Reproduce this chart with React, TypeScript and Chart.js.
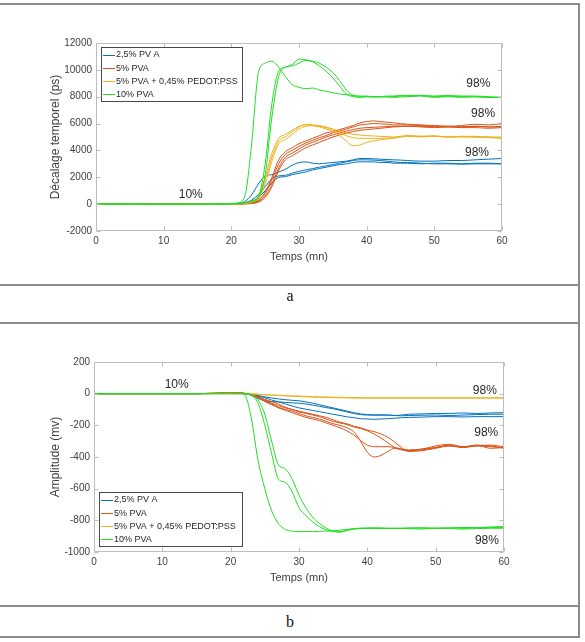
import React, { useEffect, useRef } from "react";
import { Chart, registerables } from "chart.js";

Chart.register(...registerables);

// Sampling instants (minutes) shared by every curve
const TIME = [
  0, 5, 10, 15, 20, 21, 22, 23, 24, 25, 26, 27, 28, 29, 30, 31, 32, 33, 34, 35, 36, 37, 38, 39, 40,
  41, 42, 43, 44, 45, 46, 48, 50, 52, 54, 56, 58, 60,
];

const SERIES_NAMES = ["2,5% PV A", "5% PVA", "5% PVA + 0,45% PEDOT:PSS", "10% PVA"];
const SERIES_COLORS = ["#0072BD", "#D95319", "#EDB120", "#22DD22"];

// (a) time shift, ps
const DELAY_PVA25 = [
  [20, 10, -10, 0, 30, 60, 200, 700, 1500, 2100, 2200, 2400, 2600, 2900, 3100, 3150, 3050, 3000, 3050, 3100, 3150, 3200, 3300, 3400, 3400, 3380, 3350, 3320, 3300, 3280, 3250, 3200, 3200, 3250, 3250, 3300, 3350, 3400],
  [0, 10, -10, 10, 20, 40, 100, 300, 700, 1300, 1900, 2100, 2150, 2300, 2450, 2550, 2650, 2750, 2850, 2950, 3050, 3150, 3250, 3300, 3300, 3280, 3250, 3200, 3150, 3100, 3100, 3050, 3000, 3000, 2980, 3000, 3000, 3000],
  [10, 0, 0, -10, 10, 30, 80, 200, 500, 1000, 1600, 2000, 2050, 2200, 2300, 2400, 2550, 2650, 2750, 2850, 2950, 3000, 3100, 3150, 3150, 3150, 3100, 3100, 3050, 3050, 3050, 3000, 3050, 3050, 3000, 3050, 3050, 3000],
];
const DELAY_PVA5 = [
  [0, 10, 0, 10, 10, 20, 50, 100, 300, 900, 2000, 3300, 3900, 4200, 4500, 4700, 4900, 5100, 5300, 5400, 5550, 5700, 5850, 6050, 6150, 6200, 6150, 6100, 6050, 6000, 5950, 5900, 5850, 5800, 5850, 5950, 5900, 6000],
  [10, 0, 10, 0, 20, 20, 40, 90, 250, 800, 1800, 3000, 3700, 4000, 4300, 4550, 4750, 4950, 5100, 5300, 5450, 5600, 5750, 5900, 5950, 6000, 5980, 5950, 5900, 5900, 5900, 5850, 5800, 5800, 5750, 5800, 5750, 5800],
  [0, -10, 0, 10, 0, 10, 30, 70, 200, 600, 1500, 2700, 3500, 3800, 4100, 4400, 4600, 4800, 5000, 5150, 5300, 5450, 5550, 5650, 5700, 5720, 5750, 5780, 5800, 5800, 5800, 5750, 5700, 5750, 5700, 5700, 5650, 5700],
  [0, 0, 10, 0, 10, 10, 20, 50, 150, 500, 1300, 2500, 3300, 3600, 3900, 4200, 4400, 4600, 4800, 5000, 5150, 5300, 5400, 5500, 5550, 5600, 5650, 5700, 5750, 5780, 5800, 5800, 5750, 5750, 5750, 5800, 5750, 5750],
];
const DELAY_PEDOT = [
  [0, 10, 0, 0, 10, 30, 80, 200, 600, 2000, 3800, 4900, 5200, 5500, 5800, 5900, 5850, 5750, 5600, 5400, 5100, 4700, 4350, 4400, 4600, 4700, 4800, 4850, 4900, 5000, 5100, 5050, 5100, 5000, 5050, 5000, 5000, 4900],
  [10, 0, 10, 0, 20, 30, 70, 180, 500, 1800, 3500, 4700, 5000, 5400, 5750, 5950, 5900, 5850, 5750, 5600, 5450, 5300, 5200, 5150, 5100, 5080, 5050, 5030, 5000, 5050, 5100, 5050, 5050, 5000, 5050, 5050, 5000, 5000],
  [0, 0, -10, 10, 10, 20, 60, 150, 400, 1500, 3200, 4500, 4800, 5200, 5600, 5800, 5850, 5800, 5700, 5500, 5300, 5100, 4950, 4900, 4900, 4900, 4900, 4920, 4950, 5000, 5050, 5000, 5050, 5000, 5000, 5000, 4950, 4900],
];
const DELAY_PVA10 = [
  [30, 0, -20, 0, 30, 100, 600, 4500, 9800, 10500, 10650, 10200, 9500, 8900, 8700, 8600, 8650, 8500, 8400, 8300, 8200, 8150, 8100, 8050, 8050, 8000, 8000, 8050, 8050, 8100, 8100, 8100, 8050, 8100, 8050, 8050, 8000, 7950],
  [0, 10, 0, 0, 20, 40, 120, 250, 600, 3000, 7500, 9900, 10200, 10400, 10800, 10750, 10600, 10300, 9900, 9400, 8800, 8200, 8000, 7950, 8000, 8000, 8000, 7980, 7950, 7980, 8000, 8050, 7950, 8000, 7950, 8000, 7950, 7950],
  [10, 0, 10, -10, 20, 30, 100, 200, 450, 2200, 6500, 9500, 10200, 10300, 10500, 10700, 10650, 10500, 10200, 9800, 9200, 8500, 8100, 8000, 8000, 7980, 8000, 8000, 8000, 8050, 8050, 8100, 8000, 8050, 8000, 8000, 7950, 7950],
];

// (b) amplitude, mV
const AMP_PVA25 = [
  [0, 0, 0, 0, 2, 2, 0, -10, -30, -45, -50, -52, -55, -58, -60, -65, -72, -80, -88, -95, -105, -115, -125, -132, -135, -135, -135, -135, -138, -135, -130, -128, -125, -125, -122, -125, -122, -120],
  [0, 0, 0, 0, 2, 2, 0, -5, -15, -25, -40, -52, -65, -78, -90, -98, -106, -114, -122, -130, -138, -146, -152, -158, -160, -162, -160, -158, -155, -152, -150, -148, -145, -145, -147, -145, -145, -145],
  [0, 0, 0, 0, 2, 2, 0, -5, -12, -20, -27, -33, -38, -42, -45, -52, -60, -70, -80, -90, -100, -110, -120, -128, -132, -135, -135, -135, -138, -140, -138, -136, -135, -138, -135, -132, -130, -130],
];
const AMP_PVA5 = [
  [0, 0, 0, 0, 5, 5, 2, -5, -20, -40, -60, -75, -90, -100, -115, -125, -135, -145, -160, -175, -185, -195, -210, -220, -235, -255, -280, -310, -340, -355, -360, -350, -340, -330, -335, -330, -325, -335],
  [0, 0, 0, 0, 5, 5, 2, -8, -25, -45, -65, -85, -100, -110, -125, -140, -150, -160, -175, -190, -200, -215, -240, -300, -370, -400, -390, -365, -345, -350, -355, -350, -330, -320, -335, -325, -345, -340],
  [0, 0, 0, 0, 5, 5, 2, -8, -25, -50, -70, -90, -105, -120, -135, -150, -160, -170, -185, -200, -215, -235, -260, -295, -325, -335, -335, -335, -340, -350, -360, -355, -340, -325, -340, -330, -335, -340],
  [0, 0, 0, 0, 5, 5, 2, -5, -20, -35, -50, -65, -85, -100, -110, -120, -130, -140, -150, -165, -180, -190, -205, -215, -230, -240, -255, -275, -305, -340, -365, -360, -345, -330, -340, -325, -330, -345],
];
const AMP_PEDOT = [
  [0, 0, 0, 0, 2, 2, 0, -2, -5, -8, -10, -12, -14, -16, -18, -20, -22, -23, -24, -25, -26, -27, -28, -28, -28, -28, -28, -28, -28, -28, -28, -28, -28, -28, -28, -28, -28, -28],
  [0, 0, 0, 0, 2, 2, 1, 0, -3, -6, -8, -10, -12, -14, -15, -17, -18, -20, -21, -22, -23, -24, -25, -25, -25, -26, -26, -26, -26, -26, -26, -26, -26, -26, -26, -26, -26, -26],
];
const AMP_PVA10 = [
  [0, 0, 0, 0, 0, 0, -5, -150, -420, -600, -740, -820, -858, -868, -872, -870, -872, -870, -868, -866, -862, -858, -855, -852, -850, -850, -852, -850, -850, -852, -850, -848, -850, -848, -845, -845, -842, -840],
  [0, 0, 0, 0, 0, 0, 0, -5, -40, -130, -300, -450, -475, -540, -640, -720, -780, -820, -850, -868, -875, -865, -855, -850, -852, -850, -848, -850, -852, -850, -848, -848, -850, -848, -850, -848, -845, -845],
  [0, 0, 0, 0, 0, 0, 0, -10, -60, -200, -380, -540, -560, -620, -720, -770, -810, -840, -860, -870, -872, -860, -852, -850, -848, -848, -850, -852, -850, -850, -852, -855, -850, -852, -855, -852, -850, -850],
];

// Percentage labels written on the plots, placed in data units
const DELAY_NOTES = [
  { text: "10%", x: 14, y: 680 },
  { text: "98%", x: 56.5, y: 9000 },
  { text: "98%", x: 57.2, y: 6700 },
  { text: "98%", x: 56.3, y: 3800 },
];
const AMP_NOTES = [
  { text: "10%", x: 12.1, y: 55 },
  { text: "98%", x: 57.2, y: 17 },
  { text: "98%", x: 57.4, y: -246 },
  { text: "98%", x: 57.5, y: -928 },
];

const SANS = "'Liberation Sans', Arial, Helvetica, sans-serif";
const LABEL_COLOR = "#404040";
const AXIS_COLOR = "#bdbdbd";

// Box axes with inward ticks, in-plot legend and text labels
const matlabDecor = {
  id: "matlabDecor",
  afterDatasetsDraw(chart: any, _args: any, opts: any) {
    const { ctx, chartArea: a, scales } = chart;
    const L = 4;
    const left = Math.round(a.left) + 0.5;
    const right = Math.round(a.right) - 0.5;
    const top = Math.round(a.top) + 0.5;
    const bottom = Math.round(a.bottom) - 0.5;
    ctx.save();
    ctx.strokeStyle = AXIS_COLOR;
    ctx.lineWidth = 1;
    ctx.beginPath();
    ctx.rect(left, top, right - left, bottom - top);
    for (const t of scales.x.ticks) {
      const px = Math.round(scales.x.getPixelForValue(t.value)) + 0.5;
      ctx.moveTo(px, bottom);
      ctx.lineTo(px, bottom - L);
      ctx.moveTo(px, top);
      ctx.lineTo(px, top + L);
    }
    for (const t of scales.y.ticks) {
      const py = Math.round(scales.y.getPixelForValue(t.value)) + 0.5;
      ctx.moveTo(left, py);
      ctx.lineTo(left + L, py);
      ctx.moveTo(right, py);
      ctx.lineTo(right - L, py);
    }
    ctx.stroke();

    // labels on the curves
    ctx.fillStyle = "#262626";
    ctx.font = `12px ${SANS}`;
    ctx.textAlign = "center";
    ctx.textBaseline = "middle";
    for (const n of opts.notes) {
      ctx.fillText(n.text, scales.x.getPixelForValue(n.x), scales.y.getPixelForValue(n.y));
    }

    // legend box
    const b = opts.legend;
    ctx.fillStyle = "#ffffff";
    ctx.fillRect(b.x, b.y, b.w, b.h);
    ctx.strokeStyle = "#4a4a4a";
    ctx.strokeRect(b.x + 0.5, b.y + 0.5, b.w, b.h);
    ctx.font = `9px ${SANS}`;
    ctx.textAlign = "left";
    SERIES_NAMES.forEach((name, i) => {
      const cy = b.y + 7.5 + i * 13.3;
      ctx.strokeStyle = SERIES_COLORS[i];
      ctx.beginPath();
      ctx.moveTo(b.x + 2, Math.round(cy) + 0.5);
      ctx.lineTo(b.x + 14, Math.round(cy) + 0.5);
      ctx.stroke();
      ctx.fillStyle = "#262626";
      ctx.fillText(name, b.x + 15, cy + 0.5);
    });
    ctx.restore();
  },
};

type PanelProps = {
  top: number;
  height: number;
  groups: number[][][];
  yMin: number;
  yMax: number;
  yStep: number;
  yTitle: string;
  notes: { text: string; x: number; y: number }[];
  legend: { x: number; y: number; w: number; h: number };
  pad: { left: number; right: number; top: number; bottom: number };
  yWidth: number;
};

function Panel(p: PanelProps) {
  const ref = useRef<HTMLCanvasElement>(null);
  useEffect(() => {
    const datasets: any[] = [];
    p.groups.forEach((curves, g) => {
      curves.forEach((vals) => {
        datasets.push({
          label: SERIES_NAMES[g],
          data: TIME.map((t, i) => ({ x: t, y: vals[i] })),
          borderColor: SERIES_COLORS[g],
          borderWidth: 1,
          pointRadius: 0,
          fill: false,
          cubicInterpolationMode: "monotone",
          order: 10 - g,
        });
      });
    });
    const tickFont = { size: 10, family: SANS };
    const chart = new Chart(ref.current!, {
      type: "line",
      data: { datasets },
      plugins: [matlabDecor],
      options: {
        responsive: false,
        animation: false,
        layout: { padding: p.pad },
        plugins: {
          legend: { display: false },
          tooltip: { enabled: false },
          matlabDecor: { notes: p.notes, legend: p.legend },
        } as any,
        scales: {
          x: {
            type: "linear",
            min: 0,
            max: 60,
            grid: { display: false, drawTicks: false },
            border: { display: false },
            ticks: {
              stepSize: 10,
              padding: 4,
              maxRotation: 0,
              color: LABEL_COLOR,
              font: tickFont,
              callback: (v: any) => String(v),
            },
            title: {
              display: true,
              text: "Temps (mn)",
              color: LABEL_COLOR,
              font: { size: 11, family: SANS },
              padding: { top: 0, bottom: 7.4 },
            },
            afterFit: (s: any) => {
              s.height = 40;
            },
          },
          y: {
            type: "linear",
            min: p.yMin,
            max: p.yMax,
            grid: { display: false, drawTicks: false },
            border: { display: false },
            ticks: {
              stepSize: p.yStep,
              padding: 4,
              color: LABEL_COLOR,
              font: tickFont,
              callback: (v: any) => String(v),
            },
            title: {
              display: true,
              text: p.yTitle,
              color: LABEL_COLOR,
              font: { size: 12, family: SANS },
              padding: { top: 4.8, bottom: 0 },
            },
            afterFit: (s: any) => {
              s.width = p.yWidth;
            },
          },
        },
      } as any,
    });
    return () => chart.destroy();
  }, []);
  return (
    <canvas
      ref={ref}
      width={585}
      height={p.height}
      style={{ position: "absolute", left: 0, top: p.top, width: 585, height: p.height }}
    />
  );
}

const RULE = "#8c8c8c";

function HLine({ y }: { y: number }) {
  return <div style={{ position: "absolute", left: 0, top: y, width: 580, height: 2, background: RULE }} />;
}

export default function App() {
  return (
    <div
      style={{
        position: "absolute",
        left: 0,
        top: 0,
        width: 585,
        height: 642,
        background: "#ffffff",
        overflow: "hidden",
      }}
    >
      <Panel
        top={0}
        height={285}
        groups={[DELAY_PVA25, DELAY_PVA5, DELAY_PEDOT, DELAY_PVA10]}
        yMin={-2000}
        yMax={12000}
        yStep={2000}
        yTitle="Décalage temporel (ps)"
        notes={DELAY_NOTES}
        legend={{ x: 101, y: 47, w: 141, h: 54 }}
        pad={{ left: 44, right: 83, top: 43, bottom: 14 }}
        yWidth={52}
      />
      <Panel
        top={320}
        height={286}
        groups={[AMP_PVA25, AMP_PVA5, AMP_PEDOT, AMP_PVA10]}
        yMin={-1000}
        yMax={200}
        yStep={200}
        yTitle="Amplitude (mv)"
        notes={AMP_NOTES}
        legend={{ x: 99, y: 172, w: 143, h: 54 }}
        pad={{ left: 44, right: 81, top: 42, bottom: 14 }}
        yWidth={50}
      />
      <HLine y={3} />
      <HLine y={284} />
      <HLine y={322} />
      <HLine y={605} />
      <HLine y={636} />
      <div style={{ position: "absolute", left: 578, top: 3, width: 2, height: 635, background: RULE }} />
      <div
        style={{
          position: "absolute",
          left: 270,
          width: 40,
          top: 284,
          height: 24,
          textAlign: "center",
          font: "16px 'Liberation Serif', 'Times New Roman', serif",
          lineHeight: "24px",
          color: "#111",
        }}
      >
        a
      </div>
      <div
        style={{
          position: "absolute",
          left: 270,
          width: 40,
          top: 610,
          height: 24,
          textAlign: "center",
          font: "16px 'Liberation Serif', 'Times New Roman', serif",
          lineHeight: "24px",
          color: "#111",
        }}
      >
        b
      </div>
    </div>
  );
}
